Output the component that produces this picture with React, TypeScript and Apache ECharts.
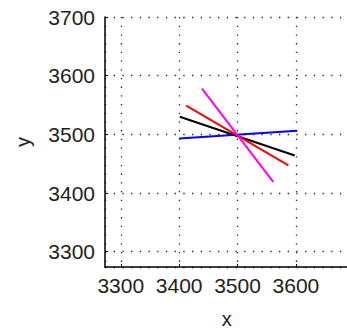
import React, { useEffect, useRef } from "react";
import * as echarts from "echarts";

const blueX = [3400, 3602];
const blueY = [3493, 3506];
const blackX = [3401, 3598];
const blackY = [3530, 3464];
const redX = [3412, 3587];
const redY = [3549, 3447];
const magentaX = [3439, 3561];
const magentaY = [3578, 3419];

const xMin = 3273;
const xMax = 3690;
const yMin = 3274;
const yMax = 3700;

const toPairs = (xs: number[], ys: number[]) => xs.map((x, i) => [x, ys[i]]);

const FONT = "'Liberation Sans', Arial, sans-serif";

export default function App() {
  const ref = useRef<HTMLDivElement>(null);
  useEffect(() => {
    if (!ref.current) return;
    const chart = echarts.init(ref.current, undefined, { renderer: "svg" });
    const grid = {
      show: true,
      lineStyle: { color: "#222", width: 1.3, type: [1.3, 7.4] as any },
    };
    const mkSeries = (xs: number[], ys: number[], color: string) => ({
      type: "line",
      data: toPairs(xs, ys),
      showSymbol: false,
      symbol: "none",
      lineStyle: { color, width: 2 },
      silent: true,
    });
    const fmt = (v: number) => String(Math.round(v));
    chart.setOption({
      animation: false,
      backgroundColor: "#fff",
      grid: {
        left: 105,
        width: 243.5,
        top: 17,
        height: 250,
        containLabel: false,
        outerBoundsMode: "none",
      },
      xAxis: {
        type: "value",
        min: xMin,
        max: xMax,
        splitNumber: 5,
        name: "x",
        nameLocation: "middle",
        nameGap: 42,
        nameTextStyle: { fontFamily: FONT, fontSize: 20, color: "#222" },
        axisLine: { show: true, onZero: false, lineStyle: { color: "#000", width: 1.5 } },
        axisTick: { show: true, inside: true, length: 3, lineStyle: { color: "#000" } },
        axisLabel: {
          showMinLabel: false,
          showMaxLabel: false,
          margin: 8,
          fontFamily: FONT,
          fontSize: 21,
          color: "#222",
          formatter: fmt,
        },
        splitLine: grid,
      },
      yAxis: {
        type: "value",
        min: yMin,
        max: yMax,
        splitNumber: 5,
        name: "y",
        nameLocation: "middle",
        nameGap: 72,
        nameTextStyle: { fontFamily: FONT, fontSize: 20, color: "#222" },
        axisLine: { show: true, onZero: false, lineStyle: { color: "#000", width: 1.5 } },
        axisTick: { show: true, inside: true, length: 3, lineStyle: { color: "#000" } },
        axisLabel: {
          showMinLabel: false,
          showMaxLabel: true,
          margin: 10,
          fontFamily: FONT,
          fontSize: 21,
          color: "#222",
          formatter: fmt,
        },
        splitLine: grid,
      },
      series: [
        mkSeries(blueX, blueY, "#0000ff"),
        mkSeries(blackX, blackY, "#000000"),
        mkSeries(redX, redY, "#ff0000"),
        mkSeries(magentaX, magentaY, "#ff00ff"),
      ],
    });
    return () => chart.dispose();
  }, []);
  return (
    <div style={{ position: "absolute", left: 0, top: 0, width: 347, height: 331, overflow: "hidden", background: "#fff" }}>
      <div ref={ref} style={{ width: 360, height: 331 }} />
    </div>
  );
}
